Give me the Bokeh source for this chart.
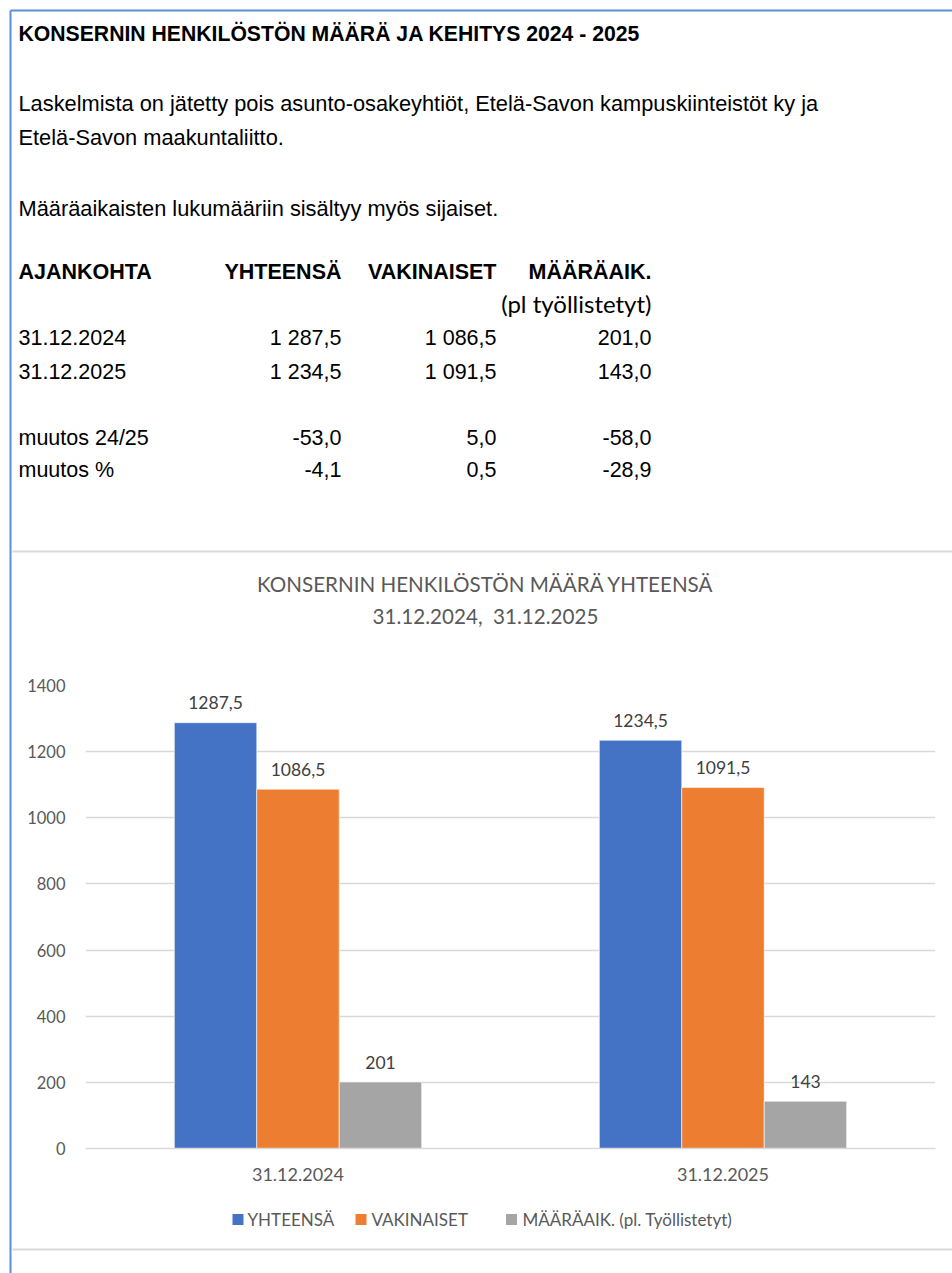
from bokeh.plotting import figure
from bokeh.models import Range1d, FactorRange, FixedTicker, ColumnDataSource
from bokeh.transform import dodge
from bokeh.core.properties import value
from bokeh.embed import file_html
from bokeh.resources import INLINE

# ---------------- data ----------------
main_title = "KONSERNIN HENKILÖSTÖN MÄÄRÄ JA KEHITYS 2024 - 2025"
notes = ["Laskelmista on jätetty pois asunto-osakeyhtiöt, Etelä-Savon kampuskiinteistöt ky ja",
         "Etelä-Savon maakuntaliitto.",
         "Määräaikaisten lukumääriin sisältyy myös sijaiset."]
table_head = ["AJANKOHTA", "YHTEENSÄ", "VAKINAISET", "MÄÄRÄAIK."]
table_sub = "(pl työllistetyt)"
dates = ["31.12.2024", "31.12.2025"]
yhteensa = [1287.5, 1234.5]
vakinaiset = [1086.5, 1091.5]
maaraaik = [201.0, 143.0]
change_labels = ["muutos 24/25", "muutos %"]
muutos_abs = [-53.0, 5.0, -58.0]
muutos_pct = [-4.1, 0.5, -28.9]
series_names = ["YHTEENSÄ", "VAKINAISET", "MÄÄRÄAIK. (pl. Työllistetyt)"]
chart_title = ["KONSERNIN HENKILÖSTÖN MÄÄRÄ YHTEENSÄ", "31.12.2024,\u00a0 31.12.2025"]
yticks = [0, 200, 400, 600, 800, 1000, 1200, 1400]

# ---------------- styles ----------------
COLORS = ["#4472C4", "#ED7D31", "#A5A5A5"]
ARIAL = value("Liberation Sans")
CAL = "Lato"
TXT = "#595959"
BORDER = "#5B8FD9"
SEP = "#D9D9D9"

WIDTH, HEIGHT = 952, 1273
# chart frame in canvas pixels
FL, FR, FT, FB = 85, 935, 685, 1148
LEG_Y = 1219
LEG_SWATCH_X = [237.5, 360.5, 511]
LEG_TEXT_X = [247, 371, 522]
SW = 11  # legend swatch size (px)


def px(X):
    """canvas x pixel -> synthetic categorical coordinate of the chart"""
    return (X - FL) / ((FR - FL) / len(dates))


def fi(v, dec=1):
    s = f"{v:,.{dec}f}"
    return s.replace(",", " ").replace(".", ",")


def fi_short(v):
    s = f"{v:g}"
    return s.replace(".", ",")


src = ColumnDataSource(dict(date=dates, yht=yhteensa, vak=vakinaiset, maa=maaraaik,
                            yht_l=[fi_short(v) for v in yhteensa],
                            vak_l=[fi_short(v) for v in vakinaiset],
                            maa_l=[fi_short(v) for v in maaraaik]))

p = figure(width=WIDTH, height=HEIGHT, x_range=FactorRange(*dates, range_padding=0),
           y_range=Range1d(0, 1400), output_backend="svg", toolbar_location=None,
           min_border_left=FL, min_border_right=WIDTH - FR, min_border_top=FT,
           min_border_bottom=HEIGHT - FB, outline_line_color=None)
# a second vertical scale in canvas pixels for the text block and the frame lines
p.extra_y_ranges = {"page": Range1d(FB, FT)}


def ptext(xs, ys, texts, size, align="left", bold=False, font=ARIAL, color="black"):
    p.text(x=[px(x) for x in xs], y=ys, text=texts, y_range_name="page", level="overlay",
           text_font=font, text_font_size=size, text_align=align, text_baseline="middle",
           text_font_style="bold" if bold else "normal", text_color=color)


# ---------------- frame lines ----------------
p.segment(x0=[px(10), px(10)], y0=[10, 10], x1=[px(WIDTH), px(10)], y1=[10, HEIGHT],
          y_range_name="page", line_color=BORDER, line_width=2, level="overlay")
p.segment(x0=[px(12)] * 2, y0=[551, 1249], x1=[px(WIDTH)] * 2, y1=[551, 1249],
          y_range_name="page", line_color=SEP, line_width=2, level="overlay")

# ---------------- text block ----------------
FS = "21.5px"
ptext([18], [33], [main_title], "21.2px", bold=True)
ptext([18, 18, 18], [103, 137, 208], notes, "21.8px")

col_x = [18, 341, 496, 651]
ptext([col_x[0]], [271], [table_head[0]], FS, bold=True)
ptext(col_x[1:], [271] * 3, table_head[1:], FS, align="right", bold=True)
ptext([col_x[3]], [303], [table_sub], "24px", align="right", font=value(CAL))

rows_y = [337, 371]
ptext([col_x[0]] * 2, rows_y, dates, FS)
for j, vals in enumerate([yhteensa, vakinaiset, maaraaik]):
    ptext([col_x[j + 1]] * 2, rows_y, [fi(v) for v in vals], FS, align="right")

ch_y = [437, 469]
ptext([col_x[0]] * 2, ch_y, change_labels, FS)
ptext(col_x[1:], [ch_y[0]] * 3, [fi(v) for v in muutos_abs], FS, align="right")
ptext(col_x[1:], [ch_y[1]] * 3, [fi(v) for v in muutos_pct], FS, align="right")

# ---------------- chart title ----------------
ptext([485, 485], [583, 615], chart_title, "20.6px", align="center", font=value(CAL), color=TXT)

# ---------------- bars ----------------
W = 0.194
for k, (col, lab) in enumerate([("yht", "yht_l"), ("vak", "vak_l"), ("maa", "maa_l")]):
    off = (k - 1) * W
    p.vbar(x=dodge("date", off, range=p.x_range), top=col, width=W, source=src,
           fill_color=COLORS[k], line_color="white", line_width=0.6)
    p.text(x=dodge("date", off, range=p.x_range), y=col, text=lab, source=src,
           text_align="center", text_baseline="middle", y_offset=-20,
           text_font=value(CAL), text_font_size="17.5px", text_color="#404040")

p.yaxis.ticker = FixedTicker(ticks=yticks)
p.yaxis.axis_line_color = None
p.yaxis.major_tick_line_color = None
p.yaxis.minor_tick_line_color = None
p.yaxis.major_label_standoff = 14
p.yaxis.major_label_text_font = CAL
p.yaxis.major_label_text_font_size = "16.5px"
p.yaxis.major_label_text_color = TXT

p.xaxis.axis_line_color = SEP
p.xaxis.axis_line_width = 1.3
p.xaxis.major_tick_line_color = None
p.xaxis.minor_tick_line_color = None
p.xaxis.major_label_standoff = 13
p.xaxis.major_label_text_font = CAL
p.xaxis.major_label_text_font_size = "18px"
p.xaxis.major_label_text_color = TXT

p.xgrid.grid_line_color = None
p.ygrid.grid_line_color = SEP
p.ygrid.grid_line_width = 1.3

# ---------------- legend (drawn below the plot area) ----------------
p.segment(x0=[px(x - SW / 2) for x in LEG_SWATCH_X], y0=[LEG_Y] * 3,
          x1=[px(x + SW / 2) for x in LEG_SWATCH_X], y1=[LEG_Y] * 3,
          y_range_name="page", line_color=COLORS, line_width=SW, line_cap="butt",
          level="overlay")
ptext(LEG_TEXT_X, [LEG_Y] * 3, series_names, "17px", font=value(CAL), color=TXT)

open("out.html", "w").write(file_html(p, INLINE))
